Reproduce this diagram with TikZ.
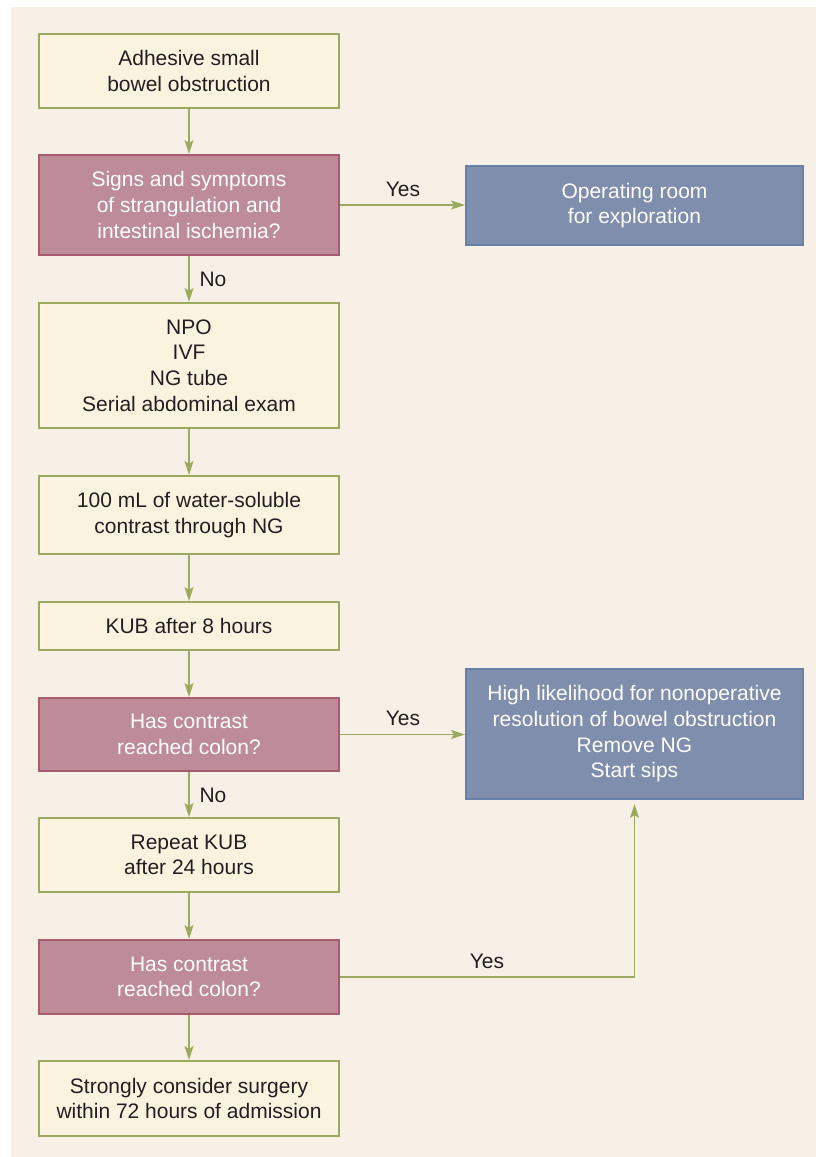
\documentclass[tikz,border=0pt]{standalone}
\usepackage{fontspec}
\setmainfont{Liberation Sans}
\usetikzlibrary{arrows.meta}
\definecolor{bgc}{RGB}{247,240,230}
\definecolor{yfill}{RGB}{249,243,224}
\definecolor{gline}{RGB}{155,170,95}
\definecolor{pfill}{RGB}{190,139,153}
\definecolor{pline}{RGB}{168,90,112}
\definecolor{bfill}{RGB}{127,142,173}
\definecolor{bline}{RGB}{104,127,166}
\definecolor{txt}{RGB}{35,31,32}
\tikzset{
  x=1pt, y=-1pt,
  every node/.style={font=\fontsize{21}{25.7}\selectfont, text=txt},
  boxbase/.style={draw, line width=2pt, inner sep=0pt, align=center, minimum width=300pt},
  ybox/.style={boxbase, fill=yfill, draw=gline},
  pbox/.style={boxbase, fill=pfill, draw=pline, text=white},
  bbox/.style={boxbase, fill=bfill, draw=bline, text=white, minimum width=337pt},
  arr/.style={draw=gline, line width=1.4pt, -{Stealth[length=14pt, width=9pt, inset=3pt]}},
  lab/.style={text=txt}
}
\begin{document}
\begin{tikzpicture}
\useasboundingbox (0,0) rectangle (816,1157);
\fill[white] (0,0) rectangle (816,1157);
\fill[bgc] (11,7) rectangle (816,1157);

\node[ybox, minimum height=74pt] (b1) at (189,71) {Adhesive small\\bowel obstruction};
\node[pbox, minimum height=100pt] (b2) at (189,205) {Signs and symptoms\\of strangulation and\\intestinal ischemia?};
\node[ybox, minimum height=125pt] (b3) at (189,365.5) {NPO\\IVF\\NG tube\\Serial abdominal exam};
\node[ybox, minimum height=78pt] (b4) at (189,515) {100 mL of water-soluble\\contrast through NG};
\node[ybox, minimum height=48pt] (b5) at (189,626) {KUB after 8 hours};
\node[pbox, minimum height=73pt] (b6) at (189,734.5) {Has contrast\\reached colon?};
\node[ybox, minimum height=74pt] (b7) at (189,855) {Repeat KUB\\after 24 hours};
\node[pbox, minimum height=74pt] (b8) at (189,977) {Has contrast\\reached colon?};
\node[ybox, minimum height=75pt] (b9) at (189,1098.5) {Strongly consider surgery\\within 72 hours of admission};

\node[bbox, minimum height=79pt] (r1) at (634.5,205.5) {Operating room\\for exploration};
\node[bbox, minimum height=130pt] (r2) at (634.5,734) {High likelihood for nonoperative\\resolution of bowel obstruction\\Remove NG\\Start sips};

\draw[arr] (b1) -- (b2);
\draw[arr] (b2) -- (b3);
\draw[arr] (b3) -- (b4);
\draw[arr] (b4) -- (b5);
\draw[arr] (b5) -- (b6);
\draw[arr] (b6) -- (b7);
\draw[arr] (b7) -- (b8);
\draw[arr] (b8) -- (b9);
\draw[arr] (b2.east) -- (b2.east -| r1.west);
\draw[arr] (b6.east) -- (b6.east -| r2.west);
\draw[arr, shorten >=4pt] (b8.east) -| (r2.south);

\node[lab] (yes1) at (403,189) {Yes};
\node[lab] (yes2) at (403,718) {Yes};
\node[lab] (yes3) at (487,961) {Yes};
\node[lab] (no1) at (213,279) {No};
\node[lab] (no2) at (213,795) {No};
\end{tikzpicture}
\end{document}
